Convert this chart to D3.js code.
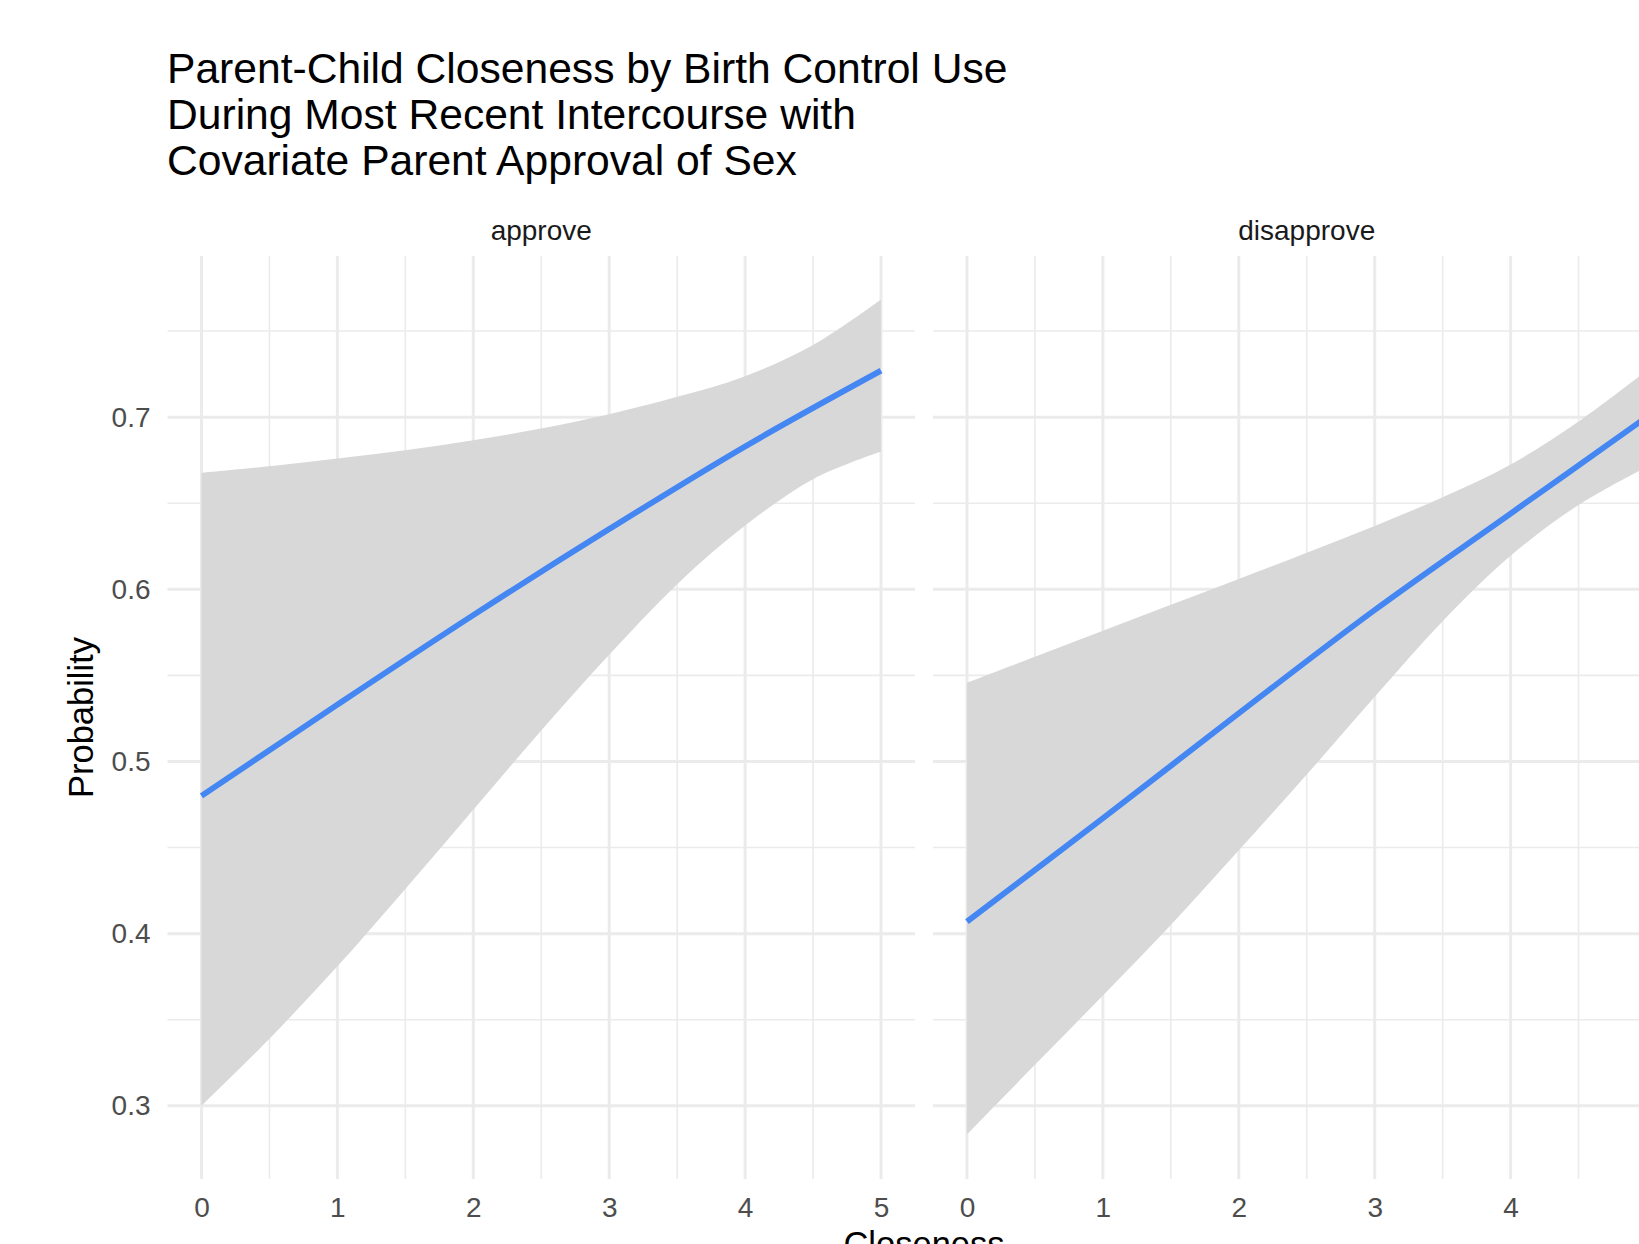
<!DOCTYPE html>
<html>
<head>
<meta charset="utf-8">
<script src="https://cdn.jsdelivr.net/npm/d3@7"></script>
<style>
  html, body { margin: 0; padding: 0; background: #ffffff; overflow: hidden; }
  svg { display: block; font-family: "Liberation Sans", Arial, Helvetica, sans-serif; }
</style>
</head>
<body>
<svg id="chart" width="1639" height="1244"></svg>
<script>
// Facets (parent approval of sex)
const facets = ["approve", "disapprove"];

// Fitted probability of birth control use, by closeness score
const closeness = [0, 1, 2, 3, 4, 5];
const approveFit = [0.480, 0.533, 0.585, 0.635, 0.683, 0.727];
const disapproveFit = [0.407, 0.467, 0.528, 0.588, 0.644, 0.700];

// Confidence band, sampled every half point of closeness
const bandX = [0, 0.5, 1, 1.5, 2, 2.5, 3, 3.5, 4, 4.5, 5];
const approveUpper = [0.6676, 0.6715, 0.6760, 0.6808, 0.6866, 0.6934, 0.7017, 0.7118, 0.7238, 0.7419, 0.7684];
const approveLower = [0.300, 0.339, 0.381, 0.426, 0.472, 0.518, 0.562, 0.603, 0.637, 0.664, 0.680];
const disapproveUpper = [0.5457, 0.5608, 0.5760, 0.5910, 0.6060, 0.6212, 0.6368, 0.6535, 0.6725, 0.6975, 0.727];
const disapproveLower = [0.2834, 0.3238, 0.3641, 0.4050, 0.4484, 0.4924, 0.5376, 0.5815, 0.6195, 0.6490, 0.671];

// Axis breaks
const xTicks = [0, 1, 2, 3, 4, 5];
const xMinor = [0.5, 1.5, 2.5, 3.5, 4.5];
const yTicks = [0.3, 0.4, 0.5, 0.6, 0.7];
const yMinor = [0.35, 0.45, 0.55, 0.65, 0.75];

const titleLines = [
  "Parent-Child Closeness by Birth Control Use",
  "During Most Recent Intercourse with",
  "Covariate Parent Approval of Sex"
];

const panels = [
  { name: facets[0], fit: approveFit, upper: approveUpper, lower: approveLower },
  { name: facets[1], fit: disapproveFit, upper: disapproveUpper, lower: disapproveLower }
];

// Layout
const panelTop = 256, panelBottom = 1179;
const panelWidth = 747.5, panelGap = 18;
const firstPanelLeft = 167.5;
const fontStack = "'Liberation Sans', Arial, Helvetica, sans-serif";

const svg = d3.select("#chart");

const y = d3.scaleLinear().domain([0.2575, 0.7936]).range([panelBottom, panelTop]);

const gridColor = "#EBEBEB";
const bandColor = "#D8D8D8";
const lineColor = "#4487F2";
const smooth = d3.curveCatmullRom.alpha(0.5);

panels.forEach((p, i) => {
  const left = firstPanelLeft + i * (panelWidth + panelGap);
  const x = d3.scaleLinear().domain([-0.25, 5.25]).range([left, left + panelWidth]);
  const g = svg.append("g");

  // minor grid
  g.selectAll(".vminor").data(xMinor).join("line")
    .attr("x1", d => x(d)).attr("x2", d => x(d))
    .attr("y1", panelTop).attr("y2", panelBottom)
    .attr("stroke", gridColor).attr("stroke-width", 1.6);
  g.selectAll(".hminor").data(yMinor).join("line")
    .attr("x1", left).attr("x2", left + panelWidth)
    .attr("y1", d => y(d)).attr("y2", d => y(d))
    .attr("stroke", gridColor).attr("stroke-width", 1.6);

  // major grid
  g.selectAll(".vmajor").data(xTicks).join("line")
    .attr("x1", d => x(d)).attr("x2", d => x(d))
    .attr("y1", panelTop).attr("y2", panelBottom)
    .attr("stroke", gridColor).attr("stroke-width", 3);
  g.selectAll(".hmajor").data(yTicks).join("line")
    .attr("x1", left).attr("x2", left + panelWidth)
    .attr("y1", d => y(d)).attr("y2", d => y(d))
    .attr("stroke", gridColor).attr("stroke-width", 3);

  // confidence band
  const bandData = bandX.map((bx, k) => ({ x: bx, lo: p.lower[k], hi: p.upper[k] }));
  g.append("path")
    .datum(bandData)
    .attr("fill", bandColor)
    .attr("d", d3.area().curve(smooth)
      .x(d => x(d.x)).y0(d => y(d.lo)).y1(d => y(d.hi)));

  // fitted line
  const lineData = closeness.map((cx, k) => ({ x: cx, v: p.fit[k] }));
  g.append("path")
    .datum(lineData)
    .attr("fill", "none")
    .attr("stroke", lineColor)
    .attr("stroke-width", 5.8)
    .attr("d", d3.line().curve(smooth).x(d => x(d.x)).y(d => y(d.v)));

  // x axis labels
  const xAxis = svg.append("g")
    .attr("transform", `translate(0,${panelBottom})`)
    .call(d3.axisBottom(x).tickValues(xTicks).tickSize(0).tickPadding(18).tickFormat(d3.format("d")));
  xAxis.select(".domain").remove();
  xAxis.selectAll("text").attr("font-size", 28).attr("fill", "#4D4D4D")
    .attr("font-family", fontStack);

  // strip label
  svg.append("text")
    .attr("x", left + panelWidth / 2).attr("y", 240)
    .attr("text-anchor", "middle")
    .attr("font-size", 28).attr("fill", "#1A1A1A")
    .text(p.name);
});

// y axis labels
const yAxis = svg.append("g")
  .attr("transform", `translate(${firstPanelLeft},0)`)
  .call(d3.axisLeft(y).tickValues(yTicks).tickSize(0).tickPadding(17).tickFormat(d3.format(".1f")));
yAxis.select(".domain").remove();
yAxis.selectAll("text").attr("font-size", 28).attr("fill", "#4D4D4D")
  .attr("font-family", fontStack);

// axis titles
svg.append("text")
  .attr("transform", `translate(93,${(panelTop + panelBottom) / 2}) rotate(-90)`)
  .attr("text-anchor", "middle")
  .attr("font-size", 34.5).attr("fill", "#000")
  .text("Probability");

svg.append("text")
  .attr("x", firstPanelLeft + panelWidth + panelGap / 2).attr("y", 1256)
  .attr("text-anchor", "middle")
  .attr("font-size", 34.5).attr("fill", "#000")
  .text("Closeness");

// title
svg.append("g").selectAll("text").data(titleLines).join("text")
  .attr("x", 167)
  .attr("y", (d, i) => 83 + i * 46)
  .attr("font-size", 42.6)
  .attr("fill", "#000")
  .text(d => d);
</script>
</body>
</html>
